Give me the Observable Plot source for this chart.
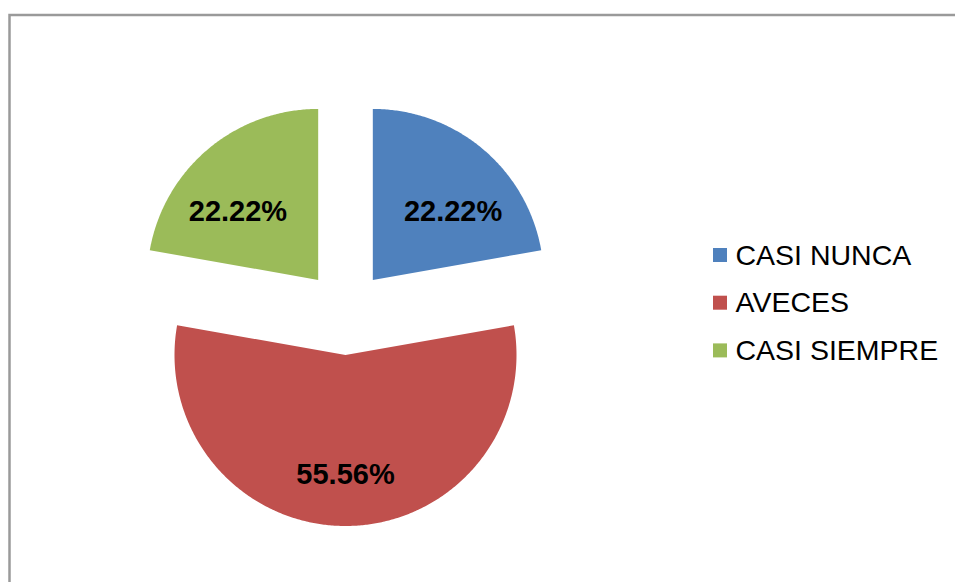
<!DOCTYPE html>
<html><head><meta charset="utf-8">
<script src="https://cdn.jsdelivr.net/npm/d3@7"></script>
<script src="https://cdn.jsdelivr.net/npm/@observablehq/plot@0.6"></script>
<style>html,body{margin:0;padding:0;background:#fff;overflow:hidden}</style>
</head><body><div id="chart"></div>
<script>
const categories = ["CASI NUNCA", "AVECES", "CASI SIEMPRE"];
const values = [22.22, 55.56, 22.22];
const labels = ["22.22%", "55.56%", "22.22%"];
const colors = ["#4F81BD", "#C0504D", "#9BBB59"];

const W = 955, H = 582;
const cx = 345, cy = 312, R = 171, explode = 42.5;

const arcs = d3.pie().sort(null).value(d => d)(values);
const slicePts = [];
const labelPts = [];
arcs.forEach((a, i) => {
  const mid = (a.startAngle + a.endAngle) / 2;
  const ox = cx + explode * Math.sin(mid), oy = cy - explode * Math.cos(mid);
  slicePts.push({cat: categories[i], x: ox, y: oy});
  const n = Math.max(2, Math.ceil((a.endAngle - a.startAngle) / (Math.PI / 360)));
  for (let k = 0; k <= n; k++) {
    const t = a.startAngle + (a.endAngle - a.startAngle) * k / n;
    slicePts.push({cat: categories[i], x: ox + R * Math.sin(t), y: oy - R * Math.cos(t)});
  }
  const c = Math.cos(mid);
  labelPts.push({
    text: labels[i],
    x: ox + 0.73 * R * Math.sin(mid),
    y: oy - R * c * (c > 0 ? 0.52 : 0.70)
  });
});

const legendRows = categories.map((d, i) => ({cat: d, y: 255 + i * 47.7}));

const chart = Plot.plot({
  width: W, height: H,
  margin: 0,
  style: {fontFamily: "'Liberation Sans', Arial, sans-serif", background: "#fff", overflow: "visible"},
  x: {type: "linear", domain: [0, W], range: [0, W], axis: null},
  y: {type: "linear", domain: [0, H], range: [0, H], axis: null},
  color: {domain: categories, range: colors},
  marks: [
    Plot.frame({stroke: "#9a9a9a", strokeWidth: 2.5, insetLeft: 9, insetTop: 14.5, insetRight: -20, insetBottom: -20}),
    Plot.line(slicePts, {x: "x", y: "y", z: "cat", fill: "cat", stroke: "none", curve: "linear-closed"}),
    Plot.text(labelPts, {x: "x", y: "y", text: "text", fontSize: 29, fontWeight: "bold", fill: "#000"}),
    Plot.rect(legendRows, {x1: () => 713, x2: () => 727, y1: d => d.y - 7, y2: d => d.y + 7, fill: "cat"}),
    Plot.text(legendRows, {x: () => 735, y: "y", text: "cat", textAnchor: "start", fontSize: 28.5, fill: "#000"})
  ]
});
document.getElementById("chart").appendChild(chart);
</script>
</body></html>
